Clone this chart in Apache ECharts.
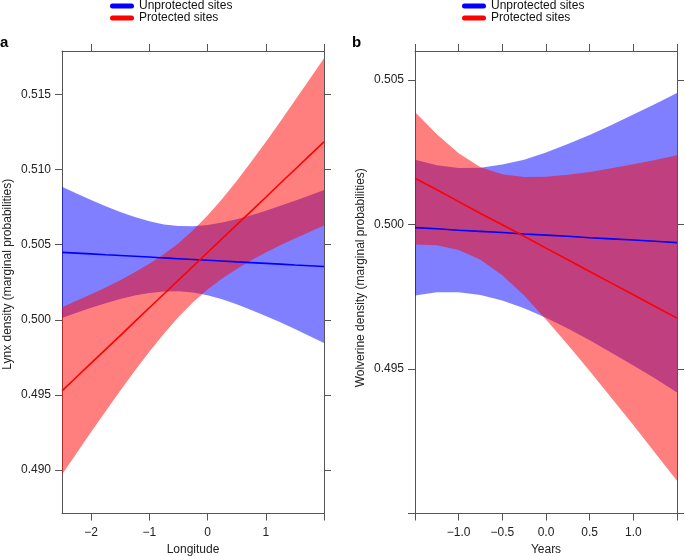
<!DOCTYPE html>
<html>
<head>
<meta charset="utf-8">
<script src="https://cdn.jsdelivr.net/npm/echarts@6/dist/echarts.min.js"></script>
<style>
html,body{margin:0;padding:0;background:#fff;}
#chart{width:685px;height:556px;}
</style>
</head>
<body>
<div id="chart"></div>
<script>
// ---------- Panel a: Lynx vs Longitude ----------
const lynxX = [-2.5,-2.25,-2,-1.75,-1.5,-1.25,-1,-0.75,-0.5,-0.25,0,0.25,0.5,0.75,1,1.25,1.5,1.75,2];
const lynxUnprotFit  = [0.50449,0.50444,0.50439,0.50433,0.50428,0.50423,0.50418,0.50412,0.50407,0.50402,0.50397,0.50392,0.50386,0.50381,0.50376,0.50371,0.50365,0.50360,0.50355];
const lynxUnprotHigh = [0.50886,0.50841,0.50798,0.50756,0.50718,0.50685,0.50657,0.50635,0.50624,0.50623,0.50631,0.50648,0.50669,0.50696,0.50726,0.50759,0.50792,0.50828,0.50865];
const lynxUnprotLow  = [0.50012,0.50047,0.50080,0.50110,0.50138,0.50161,0.50179,0.50189,0.50190,0.50181,0.50163,0.50136,0.50103,0.50066,0.50026,0.49983,0.49938,0.49892,0.49845];
const lynxProtFit    = [0.49527,0.49619,0.49711,0.49803,0.49895,0.49988,0.50080,0.50172,0.50264,0.50356,0.50448,0.50540,0.50632,0.50724,0.50816,0.50909,0.51001,0.51093,0.51185];
const lynxProtHigh   = [0.50084,0.50127,0.50170,0.50215,0.50263,0.50316,0.50373,0.50437,0.50510,0.50596,0.50694,0.50805,0.50925,0.51052,0.51184,0.51321,0.51460,0.51601,0.51742];
const lynxProtLow    = [0.48970,0.49111,0.49252,0.49391,0.49527,0.49660,0.49787,0.49907,0.50018,0.50116,0.50202,0.50275,0.50339,0.50396,0.50448,0.50497,0.50542,0.50585,0.50628];
const lynxXTicks  = [-2,-1,0,1,2];
const lynxXLabels = [-2,-1,0,1];
const lynxYTicks  = [0.490,0.495,0.500,0.505,0.510,0.515];

// ---------- Panel b: Wolverine vs Years ----------
const wolvX = [-1.5,-1.25,-1,-0.75,-0.5,-0.25,0,0.25,0.5,0.75,1,1.25,1.5];
const wolvUnprotFit  = [0.49989,0.49985,0.49980,0.49976,0.49972,0.49967,0.49963,0.49959,0.49954,0.49950,0.49946,0.49942,0.49937];
const wolvUnprotHigh = [0.50224,0.50205,0.50195,0.50196,0.50207,0.50224,0.50249,0.50278,0.50309,0.50344,0.50380,0.50417,0.50455];
const wolvUnprotLow  = [0.49754,0.49765,0.49765,0.49756,0.49737,0.49710,0.49677,0.49640,0.49599,0.49556,0.49512,0.49467,0.49419];
const wolvProtFit    = [0.50160,0.50120,0.50079,0.50038,0.49999,0.49959,0.49918,0.49878,0.49837,0.49797,0.49757,0.49716,0.49676];
const wolvProtHigh   = [0.50389,0.50312,0.50246,0.50198,0.50174,0.50164,0.50165,0.50172,0.50181,0.50194,0.50208,0.50223,0.50239];
const wolvProtLow    = [0.49931,0.49928,0.49912,0.49878,0.49824,0.49754,0.49671,0.49584,0.49493,0.49400,0.49306,0.49209,0.49113];
const wolvXTicks  = [-1.5,-1,-0.5,0,0.5,1,1.5];
const wolvXLabels = [-1,-0.5,0,0.5,1];
const wolvYTicks  = [0.490,0.495,0.500,0.505];
const wolvYLabels = [0.495,0.500,0.505];

const legendNames = ['Unprotected sites','Protected sites'];
const BLUE = '#0000ff', RED = '#ff0000';
const BLUE_BAND = 'rgba(0,0,255,0.5)', RED_BAND = 'rgba(255,0,0,0.5)';
const FONT = '"Liberation Sans", Arial, Helvetica, sans-serif';
const AXC = '#555';

function minus(s){ return s.replace('-', '\u2212'); }

function band(xi, yi, xs, lo, hi, color){
  const data = xs.map((x,i)=>[x, lo[i], hi[i]]);
  return {
    type:'custom', xAxisIndex:xi, yAxisIndex:yi, data:data, silent:true,
    encode:{x:0, y:[1,2]},
    renderItem:function(params, api){
      if (params.dataIndex !== 0) return null;
      const pts = [];
      for (let i=0;i<data.length;i++) pts.push(api.coord([data[i][0], data[i][2]]));
      for (let i=data.length-1;i>=0;i--) pts.push(api.coord([data[i][0], data[i][1]]));
      return {type:'polygon', shape:{points:pts}, style:{fill:color, stroke:null}};
    }
  };
}
function fitLine(xi, yi, xs, ys, name, color){
  return {
    type:'line', name:name, xAxisIndex:xi, yAxisIndex:yi,
    data: xs.map((x,i)=>[x, ys[i]]),
    showSymbol:false, symbol:'none', color:color,
    itemStyle:{color:color}, lineStyle:{color:color, width:1.6}, silent:true
  };
}

const tickStyle = {show:true, inside:false, length:7, lineStyle:{color:AXC, width:1}};
const lineStyle = {show:true, onZero:false, lineStyle:{color:AXC, width:1}};
const labelStyle = {fontSize:12, color:'#222', fontFamily:FONT, margin:11};

function xBottom(grid, min, max, ticks, labels, fmt, name){
  return {type:'value', gridIndex:grid, position:'bottom', min:min, max:max,
    axisLine:lineStyle, axisTick:Object.assign({customValues:ticks}, tickStyle),
    axisLabel:Object.assign({customValues:labels, formatter:fmt, showMinLabel:true, showMaxLabel:true}, labelStyle, {margin:13}),
    splitLine:{show:false}, name:name, nameLocation:'middle', nameGap:30,
    nameTextStyle:{fontSize:12, color:'#222', fontFamily:FONT}};
}
function xTop(grid, min, max, ticks){
  return {type:'value', gridIndex:grid, position:'top', min:min, max:max,
    axisLine:lineStyle, axisTick:Object.assign({customValues:ticks}, tickStyle),
    axisLabel:{show:false}, splitLine:{show:false}};
}
function yLeft(grid, min, max, ticks, labels, name, shift){
  return {type:'value', gridIndex:grid, position:'left', min:min, max:max,
    axisLine:lineStyle, axisTick:Object.assign({customValues:ticks}, tickStyle),
    axisLabel:Object.assign({customValues:labels, formatter:v=>v.toFixed(3)}, labelStyle),
    splitLine:{show:false}, name:name, nameLocation:'middle', nameGap:48,
    nameTextStyle:{fontSize:12, color:'#222', fontFamily:FONT, padding:[0,0,0,shift]}};
}
function yRight(grid, min, max, ticks){
  return {type:'value', gridIndex:grid, position:'right', min:min, max:max,
    axisLine:lineStyle, axisTick:Object.assign({customValues:ticks}, tickStyle),
    axisLabel:{show:false}, splitLine:{show:false}};
}
const fmtA = v => minus(String(v));
const fmtB = v => minus(v.toFixed(1));

const pill = 'path://M2.5,0 L21.5,0 A2.5,2.5 0 0 1 21.5,5 L2.5,5 A2.5,2.5 0 0 1 2.5,0 Z';
function legendAt(left){
  return {orient:'vertical', left:left, top:0, padding:0, itemGap:0,
    itemWidth:24, itemHeight:5, selectedMode:false,
    data: legendNames.map(n=>({name:n, icon:pill})),
    textStyle:{fontSize:12, lineHeight:12, color:'#111', fontFamily:FONT}};
}

const chart = echarts.init(document.getElementById('chart'), null, {renderer:'canvas'});
chart.setOption({
  animation:false,
  backgroundColor:'#fff',
  textStyle:{fontFamily:FONT},
  legend:[legendAt(110), legendAt(462)],
  grid:[
    {left:62, top:51, width:262, height:462.5, containLabel:false, outerBoundsMode:'none'},
    {left:415, top:51, width:262, height:462.5, containLabel:false, outerBoundsMode:'none'}
  ],
  xAxis:[
    xBottom(0, -2.5, 2, lynxXTicks, lynxXLabels, fmtA, 'Longitude'),
    xTop(0, -2.5, 2, lynxXTicks),
    xBottom(1, -1.5, 1.5, wolvXTicks, wolvXLabels, fmtB, 'Years'),
    xTop(1, -1.5, 1.5, wolvXTicks)
  ],
  yAxis:[
    yLeft(0, 0.4871, 0.5179, lynxYTicks, lynxYTicks, 'Lynx density (marginal probabilities)', 16),
    yRight(0, 0.4871, 0.5179, lynxYTicks),
    yLeft(1, 0.490, 0.506, wolvYTicks, wolvYLabels, 'Wolverine density (marginal probabilities)', 9),
    yRight(1, 0.490, 0.506, wolvYTicks)
  ],
  graphic:[
    {type:'text', left:0, top:35, style:{text:'a', font:'bold 15px '+FONT, fill:'#000'}},
    {type:'text', left:352, top:35, style:{text:'b', font:'bold 15px '+FONT, fill:'#000'}}
  ],
  series:[
    band(0, 0, lynxX, lynxUnprotLow, lynxUnprotHigh, BLUE_BAND),
    band(0, 0, lynxX, lynxProtLow, lynxProtHigh, RED_BAND),
    fitLine(0, 0, lynxX, lynxUnprotFit, legendNames[0], BLUE),
    fitLine(0, 0, lynxX, lynxProtFit, legendNames[1], RED),
    band(2, 2, wolvX, wolvUnprotLow, wolvUnprotHigh, BLUE_BAND),
    band(2, 2, wolvX, wolvProtLow, wolvProtHigh, RED_BAND),
    fitLine(2, 2, wolvX, wolvUnprotFit, legendNames[0], BLUE),
    fitLine(2, 2, wolvX, wolvProtFit, legendNames[1], RED)
  ]
});
</script>
</body>
</html>
